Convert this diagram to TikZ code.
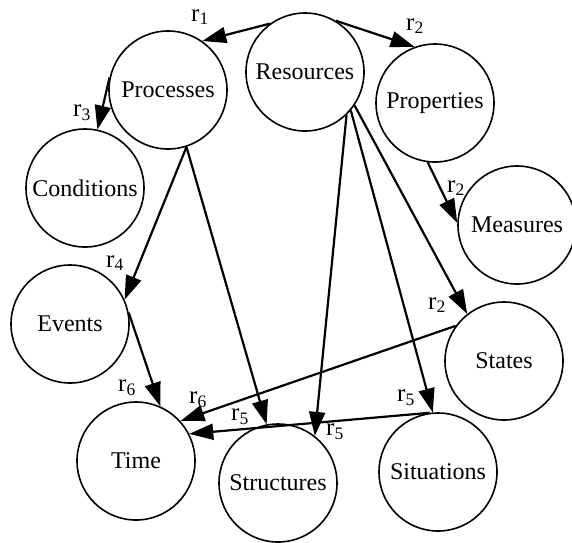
\documentclass[tikz,border=0pt]{standalone}
\usepackage{fontspec}
\setmainfont{Liberation Serif}
\newfontfamily\tms{Liberation Serif}
\usetikzlibrary{arrows.meta}
\begin{document}
\begin{tikzpicture}[x=1pt,y=-1pt,
  circ/.style={draw, circle, line width=1.6pt, minimum size=118pt, inner sep=0pt, font=\tms\fontsize{24}{28}\selectfont},
  rel/.style={line width=2.2pt, -{Triangle[length=24pt,width=16pt]}},
  lab/.style={font=\tms\fontsize{25}{28}\selectfont, inner sep=0pt}]
\useasboundingbox[fill=white] (0,0) rectangle (572,542);
\node[circ] (proc) at (168,90) {Processes};
\node[circ] (res) at (305,72) {Resources};
\node[circ] (prop) at (435,103) {Properties};
\node[circ] (cond) at (85,188) {Conditions};
\node[circ] (meas) at (517,225) {Measures};
\node[circ] (ev) at (70,324) {Events};
\node[circ] (st) at (504,361) {States};
\node[circ] (time) at (136,461) {Time};
\node[circ] (struc) at (278,483) {Structures};
\node[circ] (sit) at (438,472) {Situations};
% connectors
\draw[rel] (res.126) -- (proc.55);
\draw[rel] (res.59) -- (prop.110);
\draw[rel] (proc.168) -- (cond.78);
\draw[rel] (prop.-97) -- (meas.178);
\draw[rel] (proc.-72) -- (ev.24);
\draw[rel] (proc.-72) -- (struc.101);
\draw[rel] (res.-46) -- (struc.52);
\draw[rel] (res.-40) -- (sit.95);
\draw[rel] (res.-34) -- (st.128);
\draw[rel] (ev.11) -- (time.66);
\draw[rel] (st.144) -- (time.42);
\draw[rel] (sit.98) -- (time.27);
% labels
\node[lab] (l1) at (200,17) {r\textsubscript{1}};
\node[lab] (l2) at (415,26) {r\textsubscript{2}};
\node[lab] (l3) at (82,113) {r\textsubscript{3}};
\node[lab] (l4) at (456,188) {r\textsubscript{2}};
\node[lab] (l5) at (115,263) {r\textsubscript{4}};
\node[lab] (l6) at (437,305) {r\textsubscript{2}};
\node[lab] (l7) at (127,388) {r\textsubscript{6}};
\node[lab] (l8) at (198,400) {r\textsubscript{6}};
\node[lab] (l9) at (240,417) {r\textsubscript{5}};
\node[lab] (l10) at (406,398) {r\textsubscript{5}};
\node[lab] (l11) at (335,432) {r\textsubscript{5}};
\end{tikzpicture}
\end{document}
